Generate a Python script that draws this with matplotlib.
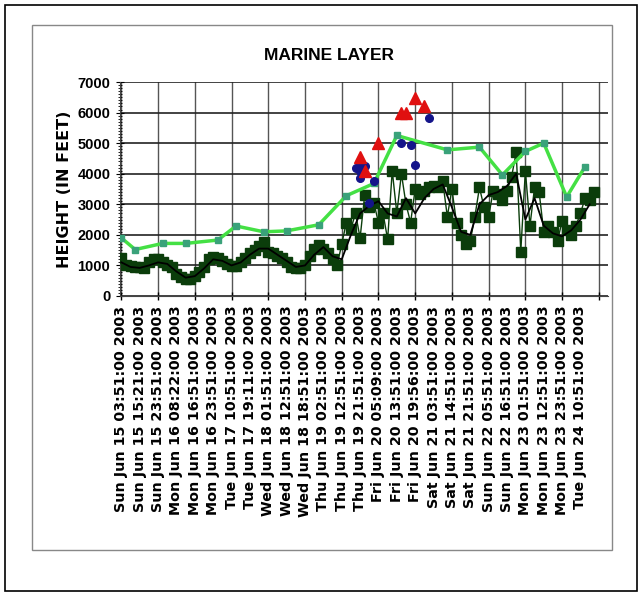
import numpy as np
import matplotlib.pyplot as plt
from matplotlib.patches import Rectangle

# observation index: 4 reports per labelled tick
tick_labels = [
    'Sun Jun 15 03:51:00 2003', 'Sun Jun 15 15:21:00 2003', 'Sun Jun 15 23:51:00 2003',
    'Mon Jun 16 08:22:00 2003', 'Mon Jun 16 16:51:00 2003', 'Mon Jun 16 23:51:00 2003',
    'Tue Jun 17 10:51:00 2003', 'Tue Jun 17 19:11:00 2003', 'Wed Jun 18 01:51:00 2003',
    'Wed Jun 18 12:51:00 2003', 'Wed Jun 18 18:51:00 2003', 'Thu Jun 19 02:51:00 2003',
    'Thu Jun 19 12:51:00 2003', 'Thu Jun 19 21:51:00 2003', 'Fri Jun 20 05:09:00 2003',
    'Fri Jun 20 13:51:00 2003', 'Fri Jun 20 19:56:00 2003', 'Sat Jun 21 03:51:00 2003',
    'Sat Jun 21 14:51:00 2003', 'Sat Jun 21 21:51:00 2003', 'Sun Jun 22 05:51:00 2003',
    'Sun Jun 22 16:51:00 2003', 'Mon Jun 23 01:51:00 2003', 'Mon Jun 23 12:51:00 2003',
    'Mon Jun 23 23:51:00 2003', 'Tue Jun 24 10:51:00 2003',
]

# observed marine layer height (dark green squares)
obs_height = [
    1250, 1000, 980, 950, 960, 900, 1100, 1200,
    1220, 1100, 1020, 950, 720, 620, 550, 560,
    650, 800, 950, 1200, 1280, 1250, 1150, 1050,
    980, 980, 1100, 1250, 1400, 1500, 1650, 1750,
    1450, 1400, 1300, 1250, 1100, 950, 920, 920,
    1000, 1300, 1550, 1680, 1550, 1400, 1200, 1000,
    1700, 2400, 2200, 2700, 1900, 3300, 2900, 3050,
    2400, 2700, 1850, 4100, 2700, 4000, 3000, 2400,
    3500, 3350, 3450, 3550, 3600, 3550, 3750, 2600,
    3500, 2400, 2000, 1700, 1800, 2600, 3550, 2900,
    2600, 3450, 3350, 3150, 3450, 3900, 4700, 1450,
    4100, 2300, 3550, 3400, 2100, 2300, 2100, 1800,
    2450, 2150, 2000, 2300, 2700, 3200, 3150, 3400,
]

# smoothed height (black line), every second report
smooth_height = [
    1100, 950, 920, 1000, 1100, 1050, 800, 600,
    650, 900, 1200, 1150, 1000, 1100, 1350, 1550,
    1550, 1350, 1150, 950, 1000, 1350, 1600, 1300,
    1200, 2000, 2700, 2950, 3100, 2700, 2600, 3200,
    2700, 3200, 3500, 3650, 2900, 2100, 2000, 3000,
    3300, 3400, 3600, 4000, 2500, 3200, 2300, 2050,
    1950, 2150, 2500, 3000,
]

# sounding inversion height (light green)
snd_idx = [0, 3, 9, 14, 21, 25, 31, 36, 43, 49, 55, 60, 71, 78, 83, 88, 92, 97, 101]
snd_height = [1900, 1520, 1720, 1720, 1830, 2290, 2100, 2130, 2330, 3280, 3680,
              5250, 4780, 4870, 3960, 4730, 5000, 3240, 4230]

# profiler (blue circles)
blue_idx = [51, 52, 52, 52, 53, 54, 55, 61, 63, 64, 67]
blue_height = [4200, 3850, 4330, 4100, 4250, 3050, 3750, 5020, 4930, 4300, 5820]

# red triangles
red_idx = [52, 53, 56, 61, 62, 64, 66]
red_height = [4550, 4080, 5000, 5980, 5980, 6480, 6220]

fig = plt.figure(figsize=(6.43, 5.96), dpi=100)
fig.patches.append(Rectangle((5 / 643, 1 - 591 / 596), 632 / 643, 586 / 596,
                             transform=fig.transFigure, fill=False,
                             edgecolor='black', linewidth=1.2))
fig.patches.append(Rectangle((32 / 643, 1 - 550 / 596), 580 / 643, 525 / 596,
                             transform=fig.transFigure, fill=False,
                             edgecolor='#888888', linewidth=1.0))

ax = fig.add_axes([120 / 643, 1 - 296 / 596, 488 / 643, 214 / 596])

obs_idx = np.arange(len(obs_height))
smooth_idx = np.arange(0, 2 * len(smooth_height), 2)

ax.plot(obs_idx, obs_height, color='#0b3d0b', linewidth=1.0, marker='s',
        markersize=6.5, markerfacecolor='#0b3d0b', markeredgecolor='#0b3d0b', zorder=3)
ax.plot(smooth_idx, smooth_height, color='black', linewidth=1.3, zorder=4)
ax.plot(snd_idx, snd_height, color='#44e044', linewidth=2.5, marker='s',
        markersize=5, markerfacecolor='#3aa27a', markeredgecolor='#3aa27a', zorder=5)
ax.plot(blue_idx, blue_height, linestyle='none', marker='o', markersize=5.5,
        color='#14148a', zorder=6)
ax.plot(red_idx, red_height, linestyle='none', marker='^', markersize=8,
        color='#e01010', zorder=7)

ax.set_xlim(-0.3, 106)
ax.set_ylim(0, 7000)

ax.set_xticks(np.arange(0, 4 * len(tick_labels), 4))
ax.set_xticklabels(tick_labels, rotation=90, fontsize=10.3, fontweight='bold',
                   family='DejaVu Sans')
ax.set_xticks(np.arange(0, 106, 8), minor=True)
ax.xaxis.remove_overlapping_locs = False
ax.tick_params(axis='x', which='major', length=0, pad=7)
ax.tick_params(axis='x', which='minor', length=6, direction='inout', width=1)
ax.grid(True, axis='x', which='minor', color='#555555', linewidth=1.0)

ax.set_yticks(np.arange(0, 7001, 1000))
ax.set_yticks(np.arange(0, 7001, 100), minor=True)
ax.tick_params(axis='y', which='major', length=6, direction='inout', pad=4)
ax.tick_params(axis='y', which='minor', length=3, direction='inout', width=0.6)
for lab in ax.get_yticklabels():
    lab.set_family(['Liberation Sans', 'DejaVu Sans'])
    lab.set_fontweight('bold')
    lab.set_fontsize(10.5)
ax.grid(True, axis='y', which='major', color='#222222', linewidth=1.2)
ax.set_axisbelow(True)

ax.spines['top'].set_visible(False)
ax.spines['right'].set_visible(False)
ax.spines['left'].set_color('#444444')
ax.spines['bottom'].set_color('#444444')

ax.set_ylabel('HEIGHT (IN FEET)', fontsize=11.5, fontweight='bold')
ax.yaxis.set_label_coords(-0.098, 0.5)

fig.text(329 / 643, 1 - 55 / 596, 'MARINE LAYER', ha='center', va='center',
         fontsize=12.5, fontweight='bold', family=['Liberation Sans', 'DejaVu Sans'])

fig.savefig('out.png', dpi=100)
